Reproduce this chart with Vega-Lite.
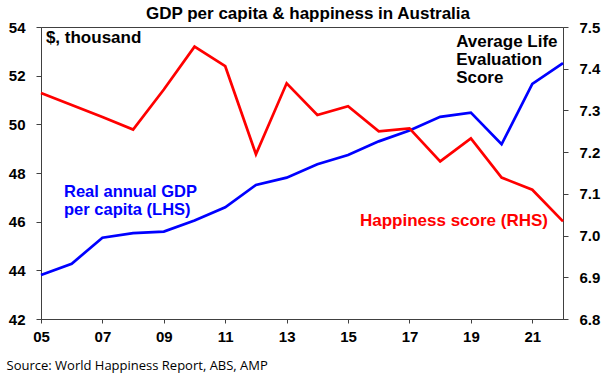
{
  "$schema": "https://vega.github.io/schema/vega-lite/v6.json",
  "width": 522,
  "height": 292,
  "autosize": {"type": "none"},
  "padding": {"left": 41, "top": 27, "right": 48, "bottom": 58},
  "background": "white",
  "title": {
    "text": "GDP per capita & happiness in Australia",
    "font": "Liberation Sans",
    "fontSize": 17,
    "fontWeight": "bold",
    "color": "#000000",
    "anchor": "middle",
    "baseline": "middle",
    "offset": 10,
    "dx": 6,
    "dy": 21
  },
  "config": {
    "view": {"stroke": "#404040", "strokeWidth": 1},
    "font": "Liberation Sans",
    "axis": {
      "grid": false,
      "domainColor": "#404040",
      "tickColor": "#404040",
      "labelFont": "Liberation Sans",
      "labelFontSize": 15,
      "labelFontWeight": "bold",
      "labelColor": "#000000"
    }
  },
  "data": {
    "values": [
      {"year": 2005, "gdp": 43.81, "hap": 7.342},
      {"year": 2006, "gdp": 44.27, "hap": 7.313},
      {"year": 2007, "gdp": 45.34, "hap": 7.284},
      {"year": 2008, "gdp": 45.53, "hap": 7.254},
      {"year": 2009, "gdp": 45.59, "hap": 7.350},
      {"year": 2010, "gdp": 46.05, "hap": 7.453},
      {"year": 2011, "gdp": 46.59, "hap": 7.406},
      {"year": 2012, "gdp": 47.51, "hap": 7.195},
      {"year": 2013, "gdp": 47.81, "hap": 7.365},
      {"year": 2014, "gdp": 48.36, "hap": 7.289},
      {"year": 2015, "gdp": 48.74, "hap": 7.310},
      {"year": 2016, "gdp": 49.30, "hap": 7.250},
      {"year": 2017, "gdp": 49.75, "hap": 7.257},
      {"year": 2018, "gdp": 50.31, "hap": 7.178},
      {"year": 2019, "gdp": 50.48, "hap": 7.233},
      {"year": 2020, "gdp": 49.18, "hap": 7.139},
      {"year": 2021, "gdp": 51.66, "hap": 7.110},
      {"year": 2022, "gdp": 52.52, "hap": 7.034}
    ]
  },
  "encoding": {
    "x": {
      "field": "year",
      "type": "quantitative",
      "scale": {"domain": [2005, 2022], "nice": false, "zero": false},
      "axis": {
        "values": [2005, 2007, 2009, 2011, 2013, 2015, 2017, 2019, 2021],
        "labelExpr": "substring(toString(datum.value), 2)",
        "tickSize": 4,
        "labelPadding": 13,
        "labelBaseline": "middle",
        "labelFlush": false,
        "title": "Source: World Happiness Report, ABS, AMP",
        "titleFont": "Open Sans",
        "titleFontSize": 13,
        "titleFontWeight": "normal",
        "titleColor": "#000000",
        "titleAnchor": "start",
        "titleAlign": "left",
        "titleBaseline": "middle",
        "titleX": -35,
        "titleY": 46
      }
    }
  },
  "layer": [
    {
      "layer": [
        {
          "mark": {"type": "line", "color": "#0000FF", "strokeWidth": 2.7},
          "encoding": {
            "y": {
              "field": "gdp",
              "type": "quantitative",
              "scale": {"domain": [42, 54], "nice": false, "zero": false},
              "axis": {
                "orient": "left",
                "values": [42, 44, 46, 48, 50, 52, 54],
                "tickSize": 5,
                "labelPadding": 11,
                "title": null
              }
            }
          }
        },
        {
          "data": {"values": [{"year": 2005.75, "v": 47.21, "label": "Real annual GDP\nper capita (LHS)"}]},
          "mark": {"type": "text", "align": "left", "baseline": "middle", "lineBreak": "\n", "lineHeight": 18, "font": "Liberation Sans", "fontSize": 16.5, "fontWeight": "bold", "color": "#0000FF"},
          "encoding": {
            "y": {"field": "v", "type": "quantitative", "scale": {"domain": [42, 54], "nice": false, "zero": false}},
            "text": {"field": "label"}
          }
        },
        {
          "data": {"values": [{"year": 2005.16, "v": 53.56, "label": "$, thousand"}]},
          "mark": {"type": "text", "align": "left", "baseline": "middle", "font": "Liberation Sans", "fontSize": 17, "fontWeight": "bold", "color": "#000000"},
          "encoding": {
            "y": {"field": "v", "type": "quantitative", "scale": {"domain": [42, 54], "nice": false, "zero": false}},
            "text": {"field": "label"}
          }
        }
      ]
    },
    {
      "layer": [
        {
          "mark": {"type": "line", "color": "#FF0000", "strokeWidth": 2.7},
          "encoding": {
            "y": {
              "field": "hap",
              "type": "quantitative",
              "scale": {"domain": [6.8, 7.5], "nice": false, "zero": false},
              "axis": {
                "orient": "right",
                "values": [6.8, 6.9, 7.0, 7.1, 7.2, 7.3, 7.4, 7.5],
                "format": ".1f",
                "tickSize": 5,
                "labelPadding": 11,
                "title": null
              }
            }
          }
        },
        {
          "data": {"values": [{"year": 2021.51, "v": 7.034, "label": "Happiness score (RHS)"}]},
          "mark": {"type": "text", "align": "right", "baseline": "middle", "font": "Liberation Sans", "fontSize": 17, "fontWeight": "bold", "color": "#FF0000"},
          "encoding": {
            "y": {"field": "v", "type": "quantitative", "scale": {"domain": [6.8, 7.5], "nice": false, "zero": false}},
            "text": {"field": "label"}
          }
        },
        {
          "data": {"values": [{"year": 2018.52, "v": 7.465, "label": "Average Life\nEvaluation\nScore"}]},
          "mark": {"type": "text", "align": "left", "baseline": "middle", "lineBreak": "\n", "lineHeight": 18, "font": "Liberation Sans", "fontSize": 17, "fontWeight": "bold", "color": "#000000"},
          "encoding": {
            "y": {"field": "v", "type": "quantitative", "scale": {"domain": [6.8, 7.5], "nice": false, "zero": false}},
            "text": {"field": "label"}
          }
        }
      ]
    }
  ],
  "resolve": {"scale": {"y": "independent"}}
}
